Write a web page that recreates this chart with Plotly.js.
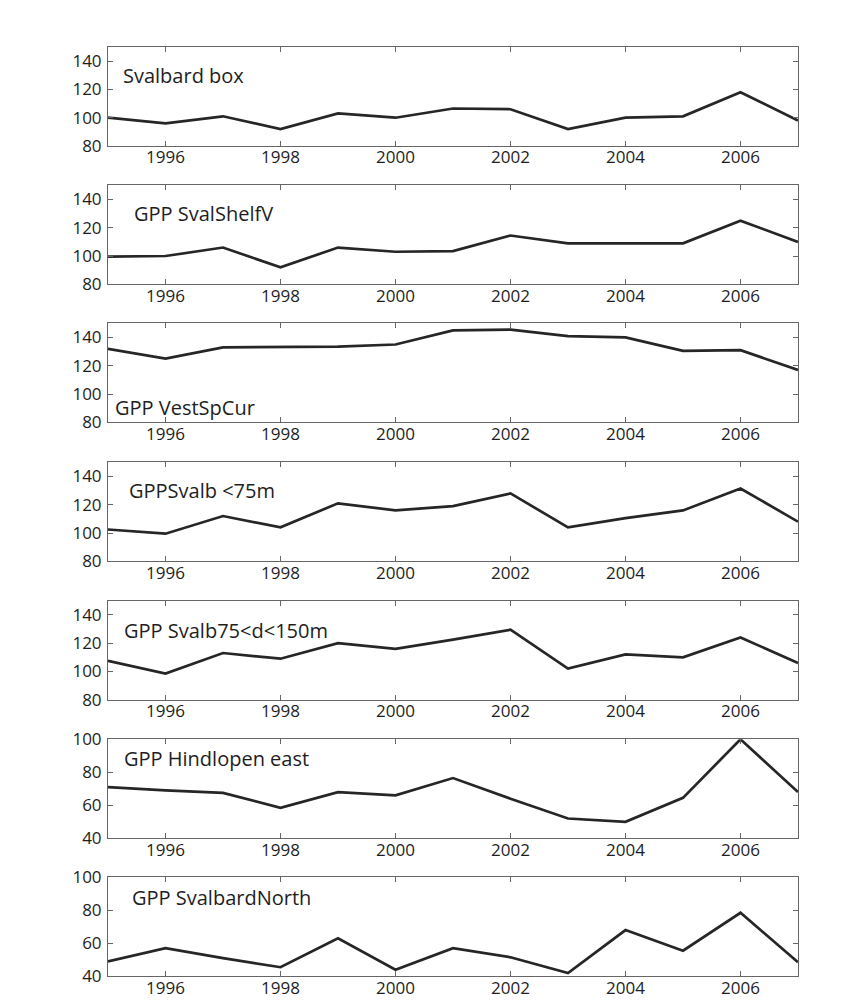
<!DOCTYPE html>
<html>
<head>
<meta charset="utf-8">
<script src="https://cdn.plot.ly/plotly-3.0.1.min.js"></script>
<style>html,body{margin:0;padding:0;background:#fff;}#chart{width:862px;height:1001px;}</style>
</head>
<body>
<div id="chart"></div>
<script>
// Data
const years = [1995,1996,1997,1998,1999,2000,2001,2002,2003,2004,2005,2006,2007];
const svalbardBox     = [100, 96, 101, 92, 103, 100, 106.5, 106, 92, 100, 101, 118, 98];
const svalShelfV      = [99.5, 100, 106, 92, 106, 103, 103.5, 114.5, 109, 109, 109, 125, 110];
const vestSpCur       = [132, 125, 133, 133.5, 133.5, 135, 145, 145.5, 141, 140, 130.5, 131, 117];
const svalbLt75       = [102.5, 99.5, 112, 104, 121, 116, 119, 128, 104, 110.5, 116, 131.5, 108];
const svalb75to150    = [107.5, 98.5, 113, 109, 120, 116, 122.5, 129.5, 102, 112, 110, 124, 106];
const hindlopenEast   = [71, 69, 67.5, 58.5, 68, 66, 76.5, 64, 52, 50, 64.5, 100, 68];
const svalbardNorth   = [49, 57, 51, 45.5, 63, 44, 57, 51.5, 42, 68, 55.5, 78.5, 48.5];

const seriesList = [svalbardBox, svalShelfV, vestSpCur, svalbLt75, svalb75to150, hindlopenEast, svalbardNorth];
const panelLabels = ["Svalbard box", "GPP SvalShelfV", "GPP VestSpCur", "GPPSvalb <75m", "GPP Svalb75<d<150m", "GPP Hindlopen east", "GPP SvalbardNorth"];
const yRanges = [[80,150],[80,150],[80,150],[80,150],[80,150],[40,100],[40,100]];
const yTicks = [[80,100,120,140],[80,100,120,140],[80,100,120,140],[80,100,120,140],[80,100,120,140],[40,60,80,100],[40,60,80,100]];
const xTicks = [1996,1998,2000,2002,2004,2006];

// Layout geometry (pixels)
const W = 862, H = 1001;
const plotLeft = 108, plotRight = 798;
const panelTops = [47, 185.3, 323.3, 462.3, 600.7, 739.3, 877.3];
const panelH = 99.0;
const labelPos = [[121,75],[132,213],[113,407],[127,491],[122,630],[122,758],[130,897]];

const traces = [];
const layout = {
  width: W, height: H,
  margin: {l:0, r:0, t:0, b:0},
  paper_bgcolor: '#ffffff',
  plot_bgcolor: '#ffffff',
  showlegend: false,
  font: {family: 'Open Sans, Noto Sans, sans-serif', color: '#1e1e1e', size: 17},
  annotations: []
};

seriesList.forEach((vals, i) => {
  const n = i + 1;
  const xa = n === 1 ? 'x' : 'x' + n;
  const ya = n === 1 ? 'y' : 'y' + n;
  traces.push({
    x: years, y: vals, xaxis: xa, yaxis: ya,
    type: 'scatter', mode: 'lines',
    line: {color: '#262626', width: 2.7},
    hoverinfo: 'skip'
  });
  const top = panelTops[i], bot = top + panelH;
  const axCommon = {
    showline: true, linecolor: '#666', linewidth: 1, mirror: 'ticks',
    ticks: 'inside', ticklen: 5, tickcolor: '#666', tickwidth: 1,
    showgrid: false, zeroline: false, fixedrange: true,
    tickfont: {size: 17, color: '#1e1e1e'}
  };
  layout['xaxis' + (n === 1 ? '' : n)] = Object.assign({}, axCommon, {
    domain: [plotLeft / W, plotRight / W],
    range: [1995, 2007], tickmode: 'array', tickvals: xTicks,
    ticktext: xTicks.map(String),
    anchor: ya, ticklabelstandoff: -4
  });
  layout['yaxis' + (n === 1 ? '' : n)] = Object.assign({}, axCommon, {
    domain: [1 - bot / H, 1 - top / H],
    range: yRanges[i], tickmode: 'array', tickvals: yTicks[i],
    ticktext: yTicks[i].map(String),
    anchor: xa, ticklabelstandoff: 2
  });
  layout.annotations.push({
    text: panelLabels[i], xref: 'paper', yref: 'paper',
    x: labelPos[i][0] / W, y: 1 - labelPos[i][1] / H,
    xanchor: 'left', yanchor: 'middle', showarrow: false,
    font: {size: 20, color: '#1e1e1e'}
  });
});

Plotly.newPlot('chart', traces, layout, {staticPlot: true});
</script>
</body>
</html>
